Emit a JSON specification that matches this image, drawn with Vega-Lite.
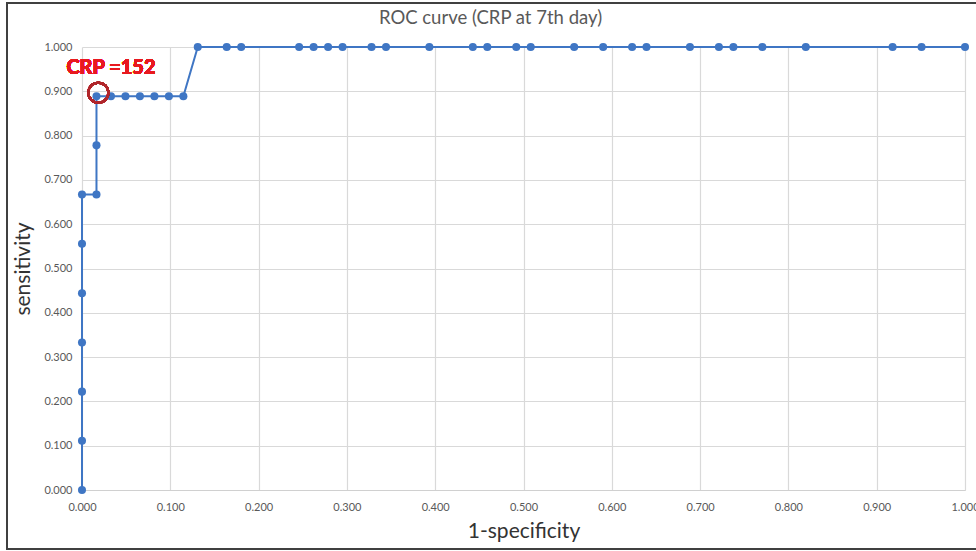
{
  "$schema": "https://vega.github.io/schema/vega-lite/v6.json",
  "autosize": {"type": "none"},
  "padding": {"left": 82, "top": 47, "right": 11, "bottom": 61},
  "width": 883,
  "height": 443,
  "background": "white",
  "config": {
    "font": "Lato",
    "view": {"stroke": null},
    "axis": {"gridColor": "#d9d9d9", "gridWidth": 1.2, "labelColor": "#595959", "labelFontSize": 11, "ticks": false, "titleColor": "#333333", "titleFontSize": 21, "titleFontWeight": "normal", "labelFlush": false, "labelOverlap": false}
  },
  "title": {"text": "ROC curve (CRP at 7th day)", "fontSize": 18.5, "fontWeight": "normal", "color": "#595959", "anchor": "middle", "dx": -33, "offset": -25},
  "data": {"values": [
    {"i": 0, "x": 0, "y": 0},
    {"i": 1, "x": 0, "y": 0.111},
    {"i": 2, "x": 0, "y": 0.222},
    {"i": 3, "x": 0, "y": 0.333},
    {"i": 4, "x": 0, "y": 0.444},
    {"i": 5, "x": 0, "y": 0.556},
    {"i": 6, "x": 0, "y": 0.667},
    {"i": 7, "x": 0.0164, "y": 0.667},
    {"i": 8, "x": 0.0164, "y": 0.778},
    {"i": 9, "x": 0.0164, "y": 0.889},
    {"i": 10, "x": 0.0328, "y": 0.889},
    {"i": 11, "x": 0.0492, "y": 0.889},
    {"i": 12, "x": 0.0656, "y": 0.889},
    {"i": 13, "x": 0.082, "y": 0.889},
    {"i": 14, "x": 0.0984, "y": 0.889},
    {"i": 15, "x": 0.1148, "y": 0.889},
    {"i": 16, "x": 0.1311, "y": 1},
    {"i": 17, "x": 0.1639, "y": 1},
    {"i": 18, "x": 0.1803, "y": 1},
    {"i": 19, "x": 0.2459, "y": 1},
    {"i": 20, "x": 0.2623, "y": 1},
    {"i": 21, "x": 0.2787, "y": 1},
    {"i": 22, "x": 0.2951, "y": 1},
    {"i": 23, "x": 0.3279, "y": 1},
    {"i": 24, "x": 0.3443, "y": 1},
    {"i": 25, "x": 0.3934, "y": 1},
    {"i": 26, "x": 0.4426, "y": 1},
    {"i": 27, "x": 0.459, "y": 1},
    {"i": 28, "x": 0.4918, "y": 1},
    {"i": 29, "x": 0.5082, "y": 1},
    {"i": 30, "x": 0.5574, "y": 1},
    {"i": 31, "x": 0.5902, "y": 1},
    {"i": 32, "x": 0.623, "y": 1},
    {"i": 33, "x": 0.6393, "y": 1},
    {"i": 34, "x": 0.6885, "y": 1},
    {"i": 35, "x": 0.7213, "y": 1},
    {"i": 36, "x": 0.7377, "y": 1},
    {"i": 37, "x": 0.7705, "y": 1},
    {"i": 38, "x": 0.8197, "y": 1},
    {"i": 39, "x": 0.918, "y": 1},
    {"i": 40, "x": 0.9508, "y": 1},
    {"i": 41, "x": 1, "y": 1}
  ]},
  "encoding": {
    "x": {"field": "x", "type": "quantitative", "title": "1-specificity", "scale": {"domain": [0, 1], "nice": false, "zero": false, "padding": 0},
          "axis": {"format": ".3f", "values": [0,0.1,0.2,0.3,0.4,0.5,0.6,0.7,0.8,0.9,1], "labelPadding": 11, "titlePadding": 8, "domain": true, "domainColor": "#d0d0d0", "domainWidth": 1.2}},
    "y": {"field": "y", "type": "quantitative", "title": "sensitivity", "scale": {"domain": [0, 1], "nice": false, "zero": false, "padding": 0},
          "axis": {"format": ".3f", "values": [0,0.1,0.2,0.3,0.4,0.5,0.6,0.7,0.8,0.9,1], "labelPadding": 10, "titlePadding": 10, "domain": false}}
  },
  "layer": [
    {
      "mark": {"type": "line", "color": "#3f76c4", "strokeWidth": 2},
      "encoding": {
        "order": {"field": "i", "type": "quantitative"}
      }
    },
    {
      "mark": {"type": "point", "filled": true, "color": "#3f76c4", "size": 65, "opacity": 1},
      "encoding": {}
    },
    {
      "mark": {"type": "point", "filled": false, "shape": "circle", "stroke": "#b0262b", "strokeWidth": 2, "size": 400, "opacity": 1, "clip": false},
      "encoding": {
        "x": {"datum": 0.0185, "type": "quantitative", "title": "1-specificity", "scale": {"domain": [0, 1], "nice": false, "zero": false, "padding": 0},
              "axis": {"format": ".3f", "values": [0,0.1,0.2,0.3,0.4,0.5,0.6,0.7,0.8,0.9,1], "labelPadding": 11, "titlePadding": 8, "domain": true, "domainColor": "#d0d0d0", "domainWidth": 1.2}},
        "y": {"datum": 0.897, "type": "quantitative", "title": "sensitivity", "scale": {"domain": [0, 1], "nice": false, "zero": false, "padding": 0},
              "axis": {"format": ".3f", "values": [0,0.1,0.2,0.3,0.4,0.5,0.6,0.7,0.8,0.9,1], "labelPadding": 10, "titlePadding": 10, "domain": false}}
      }
    },
    {
      "mark": {"type": "text", "text": "CRP =152", "color": "#e8191f", "fontSize": 20, "fontWeight": "bold", "align": "center", "baseline": "middle", "clip": false},
      "encoding": {
        "x": {"datum": 0.0328, "type": "quantitative", "title": "1-specificity", "scale": {"domain": [0, 1], "nice": false, "zero": false, "padding": 0},
              "axis": {"format": ".3f", "values": [0,0.1,0.2,0.3,0.4,0.5,0.6,0.7,0.8,0.9,1], "labelPadding": 11, "titlePadding": 8, "domain": true, "domainColor": "#d0d0d0", "domainWidth": 1.2}},
        "y": {"datum": 0.953, "type": "quantitative", "title": "sensitivity", "scale": {"domain": [0, 1], "nice": false, "zero": false, "padding": 0},
              "axis": {"format": ".3f", "values": [0,0.1,0.2,0.3,0.4,0.5,0.6,0.7,0.8,0.9,1], "labelPadding": 10, "titlePadding": 10, "domain": false}}
      }
    },
    {
      "mark": {"type": "rect", "fill": null, "fillOpacity": 0, "stroke": "#404040", "strokeWidth": 1.5, "clip": false},
      "encoding": {
        "x": {"datum": -0.0849, "type": "quantitative", "title": "1-specificity", "scale": {"domain": [0, 1], "nice": false, "zero": false, "padding": 0},
              "axis": {"format": ".3f", "values": [0,0.1,0.2,0.3,0.4,0.5,0.6,0.7,0.8,0.9,1], "labelPadding": 11, "titlePadding": 8, "domain": true, "domainColor": "#d0d0d0", "domainWidth": 1.2}},
        "x2": {"datum": 1.017},
        "y": {"datum": 1.0993, "type": "quantitative", "title": "sensitivity", "scale": {"domain": [0, 1], "nice": false, "zero": false, "padding": 0},
              "axis": {"format": ".3f", "values": [0,0.1,0.2,0.3,0.4,0.5,0.6,0.7,0.8,0.9,1], "labelPadding": 10, "titlePadding": 10, "domain": false}},
        "y2": {"datum": -0.1332}
      }
    }
  ]
}
